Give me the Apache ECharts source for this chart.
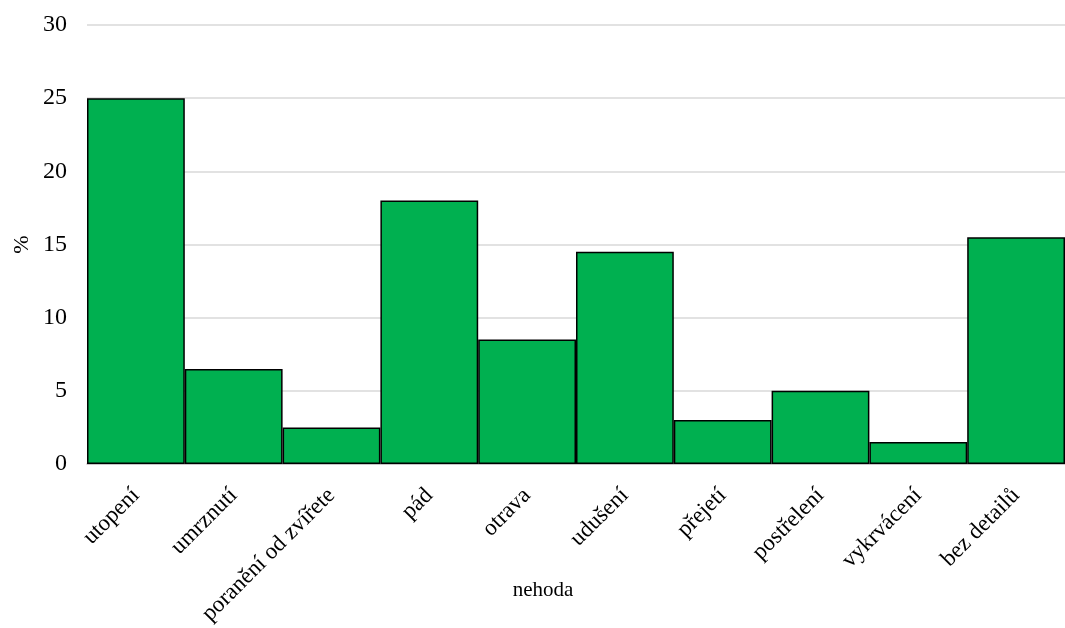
<!DOCTYPE html>
<html><head><meta charset="utf-8">
<script src="https://cdn.jsdelivr.net/npm/echarts@6/dist/echarts.min.js"></script>
<style>html,body{margin:0;padding:0;background:#fff}#c{width:1065px;height:628px}</style>
</head><body><div id="c"></div>
<script>
const categories = ['utopení','umrznutí','poranění od zvířete','pád','otrava','udušení','přejetí','postřelení','vykrvácení','bez detailů'];
const values = [25, 6.5, 2.5, 18, 8.5, 14.5, 3, 5, 1.5, 15.5];
const xName = 'nehoda';
const yName = '%';
const font = '"Liberation Serif","Times New Roman",serif';
const chart = echarts.init(document.getElementById('c'), null, {renderer:'canvas'});
chart.setOption({
  animation:false,
  grid:{left:87,right:0,top:25,bottom:164,containLabel:false,outerBoundsMode:'none'},
  xAxis:{type:'category',data:categories,
    name:xName,nameLocation:'middle',nameGap:116,nameMoveOverlap:false,
    nameTextStyle:{fontFamily:font,fontSize:21,color:'#000',padding:[0,66,0,0]},
    axisLine:{lineStyle:{color:'#bfbfbf',width:1.5}},axisTick:{show:false},
    axisLabel:{rotate:45,interval:0,fontFamily:font,fontSize:23,color:'#000',margin:28}},
  yAxis:{type:'value',min:0,max:30,interval:5,
    name:yName,nameLocation:'middle',nameGap:54,nameMoveOverlap:false,
    nameTextStyle:{fontFamily:font,fontSize:22,color:'#000'},
    axisLine:{show:false},axisTick:{show:false},
    axisLabel:{fontFamily:font,fontSize:24,color:'#000',margin:20},
    splitLine:{lineStyle:{color:'#d9d9d9',width:1.5}}},
  series:[{type:'bar',data:values,barCategoryGap:'0%',
    itemStyle:{color:'#00b050',borderColor:'#000',borderWidth:1.5}}]
});
</script></body></html>
